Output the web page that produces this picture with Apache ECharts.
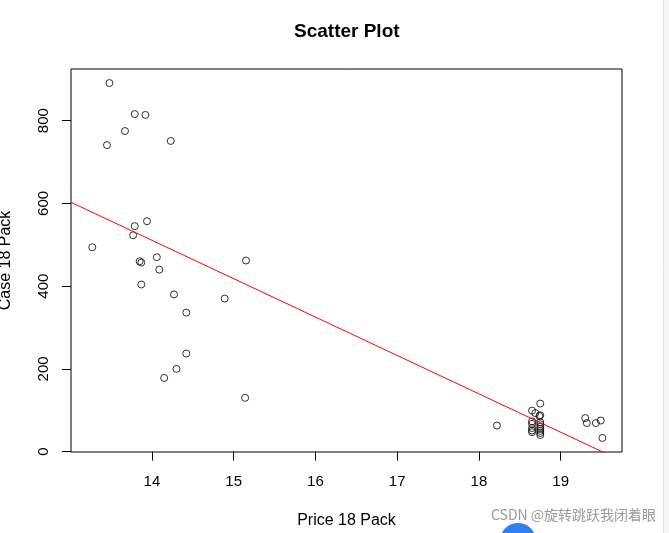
<!DOCTYPE html>
<html>
<head>
<meta charset="utf-8">
<script src="https://cdn.jsdelivr.net/npm/echarts@6/dist/echarts.min.js"></script>
<style>
html,body{margin:0;padding:0;background:#fff;}
#chart{width:669px;height:533px;}
</style>
</head>
<body>
<div id="chart"></div>
<script>
var priceX = [13.48, 13.79, 13.92, 13.67, 13.45, 14.23, 13.94, 13.79, 13.77, 13.27, 13.85, 13.87, 14.06, 14.09, 15.15, 13.87, 14.27, 14.89, 14.42, 14.42, 14.30, 14.15, 15.14,
  18.22, 18.75, 18.65, 18.69, 18.74, 18.75, 18.65, 18.65, 18.65, 18.65, 18.65, 18.75, 18.75, 18.75, 18.75, 18.75, 18.75, 18.75,
  19.30, 19.32, 19.43, 19.49, 19.51];
var caseY = [891, 816, 814, 775, 741, 751, 557, 545, 523, 494, 460, 457, 470, 440, 462, 404, 380, 370, 336, 237, 200, 178, 130,
  63, 116, 99, 93, 86, 88, 73, 67, 57, 51, 47, 71, 66, 60, 55, 50, 45, 40,
  81, 69, 69, 75, 33];
var xTicks = [14, 15, 16, 17, 18, 19];
var yTicks = [0, 200, 400, 600, 800];
var fitIntercept = 1810;
var fitSlope = -92.8;
var xRange = [13.01, 19.75];
var yRange = [-1, 925];

var pts = priceX.map(function (x, i) { return [x, caseY[i]]; });
var fitLine = xRange.map(function (x) { return [x, fitIntercept + fitSlope * x]; });

var font = 'Liberation Sans, Arial, sans-serif';
var chart = echarts.init(document.getElementById('chart'), null, {renderer: 'canvas'});
chart.setOption({
  animation: false,
  backgroundColor: '#ffffff',
  grid: {left: 71, top: 69, width: 551, height: 383, show: true, borderColor: '#000', borderWidth: 1, backgroundColor: 'transparent', containLabel: false, outerBoundsMode: 'none'},
  xAxis: {
    type: 'value', min: xRange[0], max: xRange[1],
    name: 'Price 18 Pack', nameLocation: 'middle', nameGap: 61,
    nameTextStyle: {fontFamily: font, fontSize: 16, color: '#000'},
    axisLine: {show: false},
    splitLine: {show: false},
    axisTick: {show: true, length: 9, inside: false, customValues: xTicks, lineStyle: {color: '#000', width: 1}},
    axisLabel: {customValues: xTicks, margin: 22, fontFamily: font, fontSize: 15, color: '#000'}
  },
  yAxis: {
    type: 'value', min: yRange[0], max: yRange[1],
    name: 'Case 18 Pack', nameLocation: 'middle', nameGap: 57, nameRotate: 90,
    nameTextStyle: {fontFamily: font, fontSize: 16, color: '#000'},
    axisLine: {show: false},
    splitLine: {show: false},
    axisTick: {show: true, length: 9, inside: false, customValues: yTicks, lineStyle: {color: '#000', width: 1}},
    axisLabel: {customValues: yTicks, rotate: 90, margin: 20, fontFamily: font, fontSize: 15, color: '#000'}
  },
  series: [
    {
      type: 'scatter', data: pts, symbol: 'circle', symbolSize: 7,
      itemStyle: {color: 'rgba(0,0,0,0)', borderColor: '#000', borderWidth: 1},
      silent: true
    },
    {
      type: 'line', data: fitLine, showSymbol: false, symbol: 'none', clip: true,
      lineStyle: {color: '#ff0000', width: 1}, silent: true
    }
  ],
  graphic: [
    {type: 'text', left: 347 - 53, top: 22, style: {text: 'Scatter Plot', font: 'bold 19px ' + font, fill: '#000'}},
    {type: 'rect', shape: {x: 663, y: 0, width: 6, height: 533}, style: {fill: '#f5f6f7', stroke: null}},
    {type: 'line', shape: {x1: 663.5, y1: 0, x2: 663.5, y2: 533}, style: {stroke: '#e3e3e3', lineWidth: 1}},
    {type: 'text', left: 491, top: 508, style: {text: 'CSDN @旋转跳跃我闭着眼', font: '14px "Noto Sans CJK SC", sans-serif', fill: '#9a9a9a'}},
    {type: 'circle', shape: {cx: 518, cy: 541, r: 18}, style: {fill: '#2f7ff0'}}
  ]
});
</script>
</body>
</html>
